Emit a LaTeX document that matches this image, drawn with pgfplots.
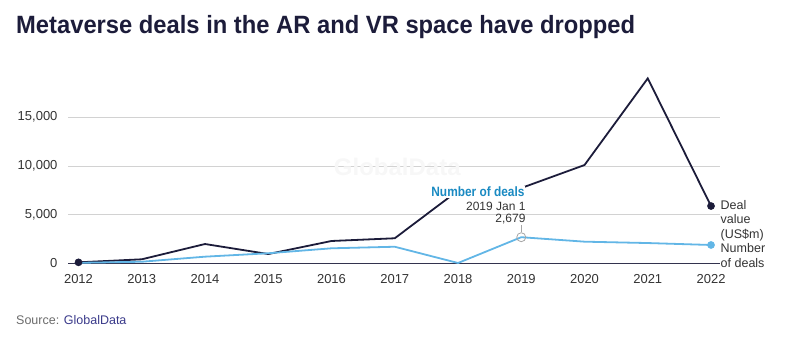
\documentclass[border=0pt]{standalone}
\usepackage{fontspec}
\setmainfont{Liberation Sans}
\newfontfamily\titlefont[FakeStretch=0.95]{Liberation Sans}
\newfontfamily\tipfont[FakeStretch=0.88]{Liberation Sans}
\usepackage{pgfplots}
\pgfplotsset{compat=1.18}
\definecolor{navy}{HTML}{1C1C3A}
\definecolor{sky}{HTML}{62B6E6}
\definecolor{tipblue}{HTML}{1A8AC2}
\definecolor{ticktxt}{HTML}{333333}
\definecolor{srcgray}{HTML}{6B6B6B}
\definecolor{srcblue}{HTML}{3A3A8A}
\begin{document}
\begin{tikzpicture}[x=1pt,y=1pt]
\path[use as bounding box] (0,0) rectangle (800,339);
\node[anchor=base west, inner sep=0pt, text=navy] at (16,305) {\titlefont\bfseries\fontsize{25}{30}\selectfont Metaverse deals in the AR and VR space have dropped};
\node[anchor=base west, inner sep=0pt] at (16,14) {\fontsize{12.5}{14}\selectfont\textcolor{srcgray}{Source: }\textcolor{srcblue}{GlobalData}};
\begin{axis}[
  at={(68pt,75.7pt)}, anchor=south west,
  scale only axis, width=652pt, height=189.9pt,
  xmin=2011.834, xmax=2022.142, ymin=0, ymax=19500,
  clip=false,
  axis x line=bottom, axis y line=left,
  y axis line style={draw=none},
  x axis line style={navy!90, line width=1pt, -},
  xtick={2012,2013,...,2022},
  ytick={0,5000,10000,15000},
  scaled y ticks=false,
  major tick length=0pt,
  ymajorgrids, grid style={gray!35, line width=0.8pt},
  tick label style={font=\fontsize{13}{15}\selectfont, text=ticktxt},
  /pgf/number format/assume math mode=true,
  x tick label style={/pgf/number format/set thousands separator={}, yshift=-8pt},
  y tick label style={/pgf/number format/set thousands separator={,}, xshift=-7pt},
]
\addplot[navy, line width=1.8pt] coordinates {
(2012,100) (2013,410) (2014,1980) (2015,950) (2016,2290) (2017,2570)
(2018,7460) (2019,7730) (2020,10090) (2021,18990) (2022,5880)};
\addplot[sky, line width=1.8pt] coordinates {
(2012,50) (2013,160) (2014,680) (2015,1030) (2016,1540) (2017,1700)
(2018,30) (2019,2679) (2020,2220) (2021,2080) (2022,1880)};
\addplot[only marks, mark=*, navy, mark size=3.6pt] coordinates {(2012,100) (2022,5880)};
\addplot[only marks, mark=*, sky, mark size=3.6pt] coordinates {(2022,1880)};
\addplot[only marks, mark=o, gray!70, mark size=4.5pt, line width=0.8pt] coordinates {(2019,2679)};
\node[text=gray!6, font=\bfseries\fontsize{24}{28}\selectfont] at (axis cs:2017.04,9890) {GlobalData};
\node[anchor=east, fill=white, inner sep=1pt, text=tipblue, font=\tipfont\bfseries\fontsize{13.5}{15}\selectfont] at (axis cs:2019.07,7320) {Number of deals};
\node[anchor=east, inner sep=0pt, text=ticktxt, font=\fontsize{12}{13}\selectfont] at (axis cs:2019.07,5880) {2019 Jan 1};
\node[anchor=east, inner sep=0pt, text=ticktxt, font=\fontsize{12}{13}\selectfont] at (axis cs:2019.07,4550) {2,679};
\draw[gray!70, line width=0.6pt] (axis cs:2019,3950) -- (axis cs:2019,3180);
\node[anchor=north west, inner sep=0pt, align=left, text=ticktxt, font=\fontsize{12.5}{14.5}\selectfont] at (axis cs:2022.15,6500) {Deal\\value\\(US\$m)};
\node[anchor=north west, inner sep=0pt, align=left, text=ticktxt, font=\fontsize{12.5}{14.5}\selectfont] at (axis cs:2022.15,2050) {Number\\of deals};
\end{axis}
\end{tikzpicture}
\end{document}
